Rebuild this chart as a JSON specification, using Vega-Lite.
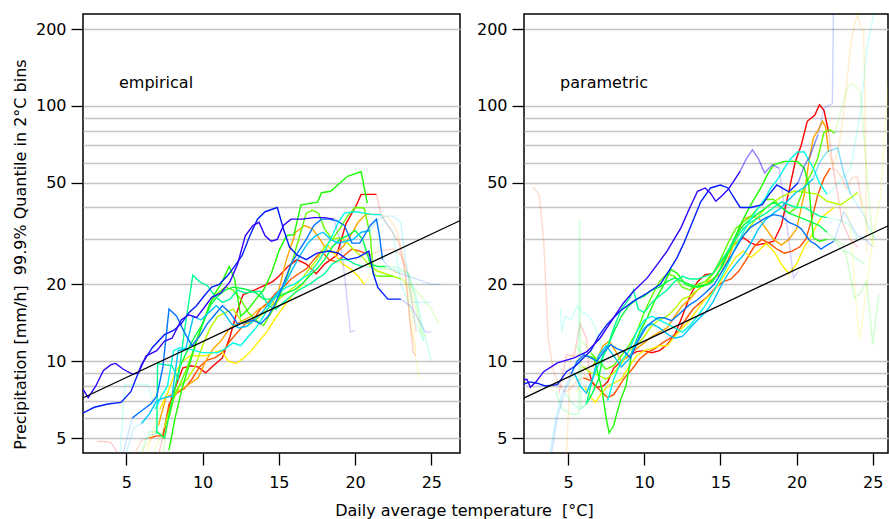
{
"$schema":"https://vega.github.io/schema/vega-lite/v6.json",
"background":"white",
"padding":{"left":11,"top":13,"right":0,"bottom":0},
"bounds":"flush",
"spacing":64,
"config":{
 "font":"DejaVu Sans",
 "view":{"stroke":"black","strokeWidth":1.5},
 "axis":{"domain":false,"labelFont":"DejaVu Sans","labelFontSize":16,"labelColor":"black","tickColor":"black","tickSize":12,"tickWidth":1.3,"titleFont":"DejaVu Sans","titleFontSize":16,"titleFontWeight":"normal","titleColor":"black","gridColor":"#c4c4c4","gridWidth":1.3,"gridOpacity":1}
},
"datasets":{
"refE":[{"t":2.0,"q":7.11},{"t":27.0,"q":35.8}],
"refP":[{"t":2.0,"q":7.13},{"t":26.5,"q":35.0}],
"emp":[
{"s":1,"g":0,"f":1,"t":3.1,"q":4.85},{"s":1,"g":0,"f":1,"t":3.6,"q":4.85},{"s":1,"g":0,"f":1,"t":4.0,"q":4.8},{"s":1,"g":0,"f":1,"t":4.5,"q":4.3},{"s":1,"g":0,"f":1,"t":5.0,"q":3.8},{"s":1,"g":0,"f":1,"t":6.0,"q":3.8},{"s":1,"g":0,"f":1,"t":7.0,"q":4.0},{"s":1,"g":0,"f":1,"t":7.4,"q":5.1},
{"s":1,"g":1,"f":0,"t":7.4,"q":5.1},{"s":1,"g":1,"f":0,"t":7.95,"q":7.1},{"s":1,"g":1,"f":0,"t":8.25,"q":8.0},{"s":1,"g":1,"f":0,"t":8.7,"q":9.4},{"s":1,"g":1,"f":0,"t":9.2,"q":9.6},{"s":1,"g":1,"f":0,"t":9.7,"q":9.5},{"s":1,"g":1,"f":0,"t":10.2,"q":9.0},{"s":1,"g":1,"f":0,"t":10.7,"q":9.6},{"s":1,"g":1,"f":0,"t":11.3,"q":10.3},{"s":1,"g":1,"f":0,"t":11.8,"q":12.5},{"s":1,"g":1,"f":0,"t":12.2,"q":15.2},{"s":1,"g":1,"f":0,"t":12.65,"q":18.2},{"s":1,"g":1,"f":0,"t":13.4,"q":19},{"s":1,"g":1,"f":0,"t":14.2,"q":20},{"s":1,"g":1,"f":0,"t":14.6,"q":20.5},{"s":1,"g":1,"f":0,"t":15.0,"q":21.5},{"s":1,"g":1,"f":0,"t":15.6,"q":23.5},{"s":1,"g":1,"f":0,"t":16.2,"q":25},{"s":1,"g":1,"f":0,"t":16.8,"q":24},{"s":1,"g":1,"f":0,"t":17.45,"q":22},{"s":1,"g":1,"f":0,"t":18.0,"q":24},{"s":1,"g":1,"f":0,"t":18.8,"q":26},{"s":1,"g":1,"f":0,"t":19.4,"q":34.5},{"s":1,"g":1,"f":0,"t":20.1,"q":41},{"s":1,"g":1,"f":0,"t":20.4,"q":45},{"s":1,"g":1,"f":0,"t":21.4,"q":45},
{"s":1,"g":2,"f":1,"t":21.4,"q":45},{"s":1,"g":2,"f":1,"t":21.7,"q":37.5},{"s":1,"g":2,"f":1,"t":22.3,"q":33},{"s":1,"g":2,"f":1,"t":22.9,"q":29},{"s":1,"g":2,"f":1,"t":23.3,"q":22},{"s":1,"g":2,"f":1,"t":23.8,"q":10.9},{"s":1,"g":2,"f":1,"t":24.0,"q":10.5},

{"s":2,"g":0,"f":1,"t":5.3,"q":3.8},{"s":2,"g":0,"f":1,"t":5.6,"q":4.4},{"s":2,"g":0,"f":1,"t":6.0,"q":4.9},{"s":2,"g":0,"f":1,"t":6.5,"q":5.0},
{"s":2,"g":1,"f":0,"t":6.5,"q":5.0},{"s":2,"g":1,"f":0,"t":7.0,"q":5.1},{"s":2,"g":1,"f":0,"t":7.4,"q":5.1},{"s":2,"g":1,"f":0,"t":7.8,"q":6.8},{"s":2,"g":1,"f":0,"t":8.3,"q":7.5},{"s":2,"g":1,"f":0,"t":8.8,"q":7.8},{"s":2,"g":1,"f":0,"t":9.3,"q":8.5},{"s":2,"g":1,"f":0,"t":9.8,"q":9.5},{"s":2,"g":1,"f":0,"t":10.3,"q":10.1},{"s":2,"g":1,"f":0,"t":10.8,"q":10.3},{"s":2,"g":1,"f":0,"t":11.3,"q":10.8},{"s":2,"g":1,"f":0,"t":11.8,"q":12},{"s":2,"g":1,"f":0,"t":12.3,"q":13},{"s":2,"g":1,"f":0,"t":12.8,"q":14},{"s":2,"g":1,"f":0,"t":13.3,"q":14.5},{"s":2,"g":1,"f":0,"t":13.8,"q":16},{"s":2,"g":1,"f":0,"t":14.3,"q":17},{"s":2,"g":1,"f":0,"t":14.8,"q":18.5},{"s":2,"g":1,"f":0,"t":15.3,"q":19.5},{"s":2,"g":1,"f":0,"t":15.8,"q":21},{"s":2,"g":1,"f":0,"t":16.3,"q":22},{"s":2,"g":1,"f":0,"t":16.8,"q":23},{"s":2,"g":1,"f":0,"t":17.3,"q":25},{"s":2,"g":1,"f":0,"t":17.8,"q":27},{"s":2,"g":1,"f":0,"t":18.3,"q":25},{"s":2,"g":1,"f":0,"t":18.8,"q":24.5},{"s":2,"g":1,"f":0,"t":19.3,"q":26},{"s":2,"g":1,"f":0,"t":19.8,"q":27.5},{"s":2,"g":1,"f":0,"t":20.3,"q":27},{"s":2,"g":1,"f":0,"t":21.0,"q":26},
{"s":2,"g":2,"f":1,"t":21.0,"q":26},{"s":2,"g":2,"f":1,"t":21.5,"q":27},{"s":2,"g":2,"f":1,"t":22.5,"q":27.5},{"s":2,"g":2,"f":1,"t":23.0,"q":26},{"s":2,"g":2,"f":1,"t":23.5,"q":22},{"s":2,"g":2,"f":1,"t":24.0,"q":13},

{"s":3,"g":0,"f":1,"t":5.8,"q":4.0},{"s":3,"g":0,"f":1,"t":6.2,"q":4.6},{"s":3,"g":0,"f":1,"t":6.7,"q":5.0},{"s":3,"g":0,"f":1,"t":7.1,"q":5.6},
{"s":3,"g":1,"f":0,"t":7.1,"q":5.6},{"s":3,"g":1,"f":0,"t":7.6,"q":7.2},{"s":3,"g":1,"f":0,"t":8.1,"q":7.5},{"s":3,"g":1,"f":0,"t":8.7,"q":7.8},{"s":3,"g":1,"f":0,"t":9.2,"q":8.2},{"s":3,"g":1,"f":0,"t":9.7,"q":8.6},{"s":3,"g":1,"f":0,"t":10.2,"q":10},{"s":3,"g":1,"f":0,"t":10.7,"q":11.2},{"s":3,"g":1,"f":0,"t":11.2,"q":12},{"s":3,"g":1,"f":0,"t":11.8,"q":13.5},{"s":3,"g":1,"f":0,"t":12.5,"q":14.3},{"s":3,"g":1,"f":0,"t":13.2,"q":15},{"s":3,"g":1,"f":0,"t":13.7,"q":16},{"s":3,"g":1,"f":0,"t":14.2,"q":16.5},{"s":3,"g":1,"f":0,"t":14.6,"q":17},{"s":3,"g":1,"f":0,"t":15.0,"q":19},{"s":3,"g":1,"f":0,"t":15.5,"q":25},{"s":3,"g":1,"f":0,"t":16.1,"q":32},{"s":3,"g":1,"f":0,"t":16.7,"q":34},{"s":3,"g":1,"f":0,"t":17.2,"q":33},{"s":3,"g":1,"f":0,"t":17.7,"q":30},{"s":3,"g":1,"f":0,"t":18.2,"q":27},{"s":3,"g":1,"f":0,"t":18.7,"q":26.5},{"s":3,"g":1,"f":0,"t":19.2,"q":28},{"s":3,"g":1,"f":0,"t":19.7,"q":31},{"s":3,"g":1,"f":0,"t":20.2,"q":35},{"s":3,"g":1,"f":0,"t":20.7,"q":37.6},{"s":3,"g":1,"f":0,"t":21.6,"q":37.6},
{"s":3,"g":2,"f":1,"t":21.6,"q":37.6},{"s":3,"g":2,"f":1,"t":22.2,"q":36.5},{"s":3,"g":2,"f":1,"t":22.7,"q":33},{"s":3,"g":2,"f":1,"t":23.2,"q":25},{"s":3,"g":2,"f":1,"t":23.6,"q":14},{"s":3,"g":2,"f":1,"t":24.0,"q":11},

{"s":4,"g":0,"f":1,"t":6.4,"q":4.4},{"s":4,"g":0,"f":1,"t":6.8,"q":5.5},{"s":4,"g":0,"f":1,"t":7.2,"q":6.5},
{"s":4,"g":1,"f":0,"t":7.2,"q":6.5},{"s":4,"g":1,"f":0,"t":7.7,"q":7.5},{"s":4,"g":1,"f":0,"t":8.2,"q":9.0},{"s":4,"g":1,"f":0,"t":8.7,"q":10.0},{"s":4,"g":1,"f":0,"t":9.2,"q":10.5},{"s":4,"g":1,"f":0,"t":9.7,"q":10.5},{"s":4,"g":1,"f":0,"t":10.2,"q":10.5},{"s":4,"g":1,"f":0,"t":10.7,"q":10.8},{"s":4,"g":1,"f":0,"t":11.2,"q":11},{"s":4,"g":1,"f":0,"t":11.7,"q":10.0},{"s":4,"g":1,"f":0,"t":12.2,"q":9.8},{"s":4,"g":1,"f":0,"t":12.7,"q":10.3},{"s":4,"g":1,"f":0,"t":13.2,"q":11},{"s":4,"g":1,"f":0,"t":13.7,"q":12},{"s":4,"g":1,"f":0,"t":14.2,"q":13},{"s":4,"g":1,"f":0,"t":14.7,"q":14.5},{"s":4,"g":1,"f":0,"t":15.2,"q":16},{"s":4,"g":1,"f":0,"t":15.7,"q":17.5},{"s":4,"g":1,"f":0,"t":16.2,"q":19},{"s":4,"g":1,"f":0,"t":16.7,"q":20.5},{"s":4,"g":1,"f":0,"t":17.2,"q":23},{"s":4,"g":1,"f":0,"t":17.7,"q":25},{"s":4,"g":1,"f":0,"t":18.2,"q":28.5},{"s":4,"g":1,"f":0,"t":18.7,"q":26},{"s":4,"g":1,"f":0,"t":19.2,"q":24},{"s":4,"g":1,"f":0,"t":19.7,"q":23},{"s":4,"g":1,"f":0,"t":20.2,"q":21.5},{"s":4,"g":1,"f":0,"t":20.6,"q":20},
{"s":4,"g":2,"f":1,"t":20.6,"q":20},{"s":4,"g":2,"f":1,"t":21.0,"q":22},{"s":4,"g":2,"f":1,"t":22.0,"q":23},{"s":4,"g":2,"f":1,"t":23.0,"q":22},{"s":4,"g":2,"f":1,"t":23.5,"q":19},{"s":4,"g":2,"f":1,"t":24.0,"q":10},{"s":4,"g":2,"f":1,"t":24.2,"q":8.5},

{"s":5,"g":0,"f":1,"t":6.8,"q":4.4},{"s":5,"g":0,"f":1,"t":7.2,"q":5.0},{"s":5,"g":0,"f":1,"t":7.5,"q":5.5},
{"s":5,"g":1,"f":0,"t":7.5,"q":5.5},{"s":5,"g":1,"f":0,"t":8.0,"q":7.0},{"s":5,"g":1,"f":0,"t":8.5,"q":8.0},{"s":5,"g":1,"f":0,"t":9.0,"q":8.5},{"s":5,"g":1,"f":0,"t":9.5,"q":9.5},{"s":5,"g":1,"f":0,"t":10.0,"q":11.5},{"s":5,"g":1,"f":0,"t":10.5,"q":13.5},{"s":5,"g":1,"f":0,"t":11.0,"q":15},{"s":5,"g":1,"f":0,"t":11.5,"q":15.5},{"s":5,"g":1,"f":0,"t":12.0,"q":16},{"s":5,"g":1,"f":0,"t":12.5,"q":14.5},{"s":5,"g":1,"f":0,"t":13.0,"q":14},{"s":5,"g":1,"f":0,"t":13.5,"q":14.5},{"s":5,"g":1,"f":0,"t":14.0,"q":15.5},{"s":5,"g":1,"f":0,"t":14.5,"q":16.5},{"s":5,"g":1,"f":0,"t":15.0,"q":17.5},{"s":5,"g":1,"f":0,"t":15.5,"q":18.5},{"s":5,"g":1,"f":0,"t":16.0,"q":19.5},{"s":5,"g":1,"f":0,"t":16.5,"q":21},{"s":5,"g":1,"f":0,"t":17.0,"q":23},{"s":5,"g":1,"f":0,"t":17.5,"q":25},{"s":5,"g":1,"f":0,"t":18.0,"q":28},{"s":5,"g":1,"f":0,"t":18.5,"q":30},{"s":5,"g":1,"f":0,"t":19.0,"q":30.5},{"s":5,"g":1,"f":0,"t":19.5,"q":29},{"s":5,"g":1,"f":0,"t":20.0,"q":27},{"s":5,"g":1,"f":0,"t":20.5,"q":25.5},{"s":5,"g":1,"f":0,"t":21.0,"q":23.5},{"s":5,"g":1,"f":0,"t":21.5,"q":22.5},{"s":5,"g":1,"f":0,"t":22.0,"q":22},{"s":5,"g":1,"f":0,"t":22.5,"q":21.5},{"s":5,"g":1,"f":0,"t":23.0,"q":21},
{"s":5,"g":2,"f":1,"t":23.0,"q":21},{"s":5,"g":2,"f":1,"t":23.5,"q":20},{"s":5,"g":2,"f":1,"t":24.0,"q":16},{"s":5,"g":2,"f":1,"t":24.3,"q":12.9},{"s":5,"g":2,"f":1,"t":24.7,"q":12.5},

{"s":6,"g":0,"f":1,"t":7.0,"q":4.0},{"s":6,"g":0,"f":1,"t":7.4,"q":4.4},{"s":6,"g":0,"f":1,"t":7.8,"q":6.0},
{"s":6,"g":1,"f":0,"t":7.8,"q":6.0},{"s":6,"g":1,"f":0,"t":8.2,"q":7.5},{"s":6,"g":1,"f":0,"t":8.6,"q":8.3},{"s":6,"g":1,"f":0,"t":9.0,"q":9.5},{"s":6,"g":1,"f":0,"t":9.5,"q":11.5},{"s":6,"g":1,"f":0,"t":10.0,"q":14},{"s":6,"g":1,"f":0,"t":10.5,"q":17},{"s":6,"g":1,"f":0,"t":11.0,"q":18.5},{"s":6,"g":1,"f":0,"t":11.5,"q":19.5},{"s":6,"g":1,"f":0,"t":12.0,"q":19},{"s":6,"g":1,"f":0,"t":12.5,"q":17.5},{"s":6,"g":1,"f":0,"t":13.0,"q":15.5},{"s":6,"g":1,"f":0,"t":13.5,"q":14.5},{"s":6,"g":1,"f":0,"t":14.0,"q":13.8},{"s":6,"g":1,"f":0,"t":14.5,"q":15.5},{"s":6,"g":1,"f":0,"t":15.0,"q":17.5},{"s":6,"g":1,"f":0,"t":15.5,"q":21},{"s":6,"g":1,"f":0,"t":16.0,"q":26},{"s":6,"g":1,"f":0,"t":16.5,"q":33},{"s":6,"g":1,"f":0,"t":16.8,"q":38},{"s":6,"g":1,"f":0,"t":17.2,"q":39},{"s":6,"g":1,"f":0,"t":17.6,"q":38},{"s":6,"g":1,"f":0,"t":18.0,"q":33},{"s":6,"g":1,"f":0,"t":18.5,"q":30},{"s":6,"g":1,"f":0,"t":19.0,"q":33},{"s":6,"g":1,"f":0,"t":19.5,"q":37},{"s":6,"g":1,"f":0,"t":20.0,"q":40},{"s":6,"g":1,"f":0,"t":20.6,"q":39.8},{"s":6,"g":1,"f":0,"t":21.0,"q":31},{"s":6,"g":1,"f":0,"t":21.2,"q":22},{"s":6,"g":1,"f":0,"t":21.5,"q":21.5},{"s":6,"g":1,"f":0,"t":22.0,"q":21.5},{"s":6,"g":1,"f":0,"t":22.5,"q":21.5},
{"s":6,"g":2,"f":1,"t":22.5,"q":21.5},{"s":6,"g":2,"f":1,"t":23.0,"q":21},{"s":6,"g":2,"f":1,"t":24.0,"q":19},{"s":6,"g":2,"f":1,"t":25.0,"q":16},{"s":6,"g":2,"f":1,"t":25.5,"q":14},

{"s":7,"g":0,"f":1,"t":7.5,"q":3.8},{"s":7,"g":0,"f":1,"t":7.8,"q":4.5},
{"s":7,"g":1,"f":0,"t":7.8,"q":4.5},{"s":7,"g":1,"f":0,"t":8.2,"q":6},{"s":7,"g":1,"f":0,"t":8.7,"q":8},{"s":7,"g":1,"f":0,"t":9.2,"q":10},{"s":7,"g":1,"f":0,"t":9.7,"q":12.5},{"s":7,"g":1,"f":0,"t":10.2,"q":15},{"s":7,"g":1,"f":0,"t":10.7,"q":18},{"s":7,"g":1,"f":0,"t":11.2,"q":20},{"s":7,"g":1,"f":0,"t":11.75,"q":23.5},{"s":7,"g":1,"f":0,"t":12.1,"q":21},{"s":7,"g":1,"f":0,"t":12.5,"q":15},{"s":7,"g":1,"f":0,"t":13.0,"q":16},{"s":7,"g":1,"f":0,"t":13.5,"q":17.5},{"s":7,"g":1,"f":0,"t":14.0,"q":19},{"s":7,"g":1,"f":0,"t":14.5,"q":22},{"s":7,"g":1,"f":0,"t":15.0,"q":27},{"s":7,"g":1,"f":0,"t":15.5,"q":31},{"s":7,"g":1,"f":0,"t":16.0,"q":31.4},{"s":7,"g":1,"f":0,"t":16.45,"q":41},{"s":7,"g":1,"f":0,"t":17.55,"q":42},{"s":7,"g":1,"f":0,"t":17.8,"q":45.7},{"s":7,"g":1,"f":0,"t":18.4,"q":46.3},{"s":7,"g":1,"f":0,"t":19.5,"q":53},{"s":7,"g":1,"f":0,"t":20.4,"q":55.2},{"s":7,"g":1,"f":0,"t":20.8,"q":41.6},

{"s":8,"g":0,"f":1,"t":6.0,"q":4.4},{"s":8,"g":0,"f":1,"t":6.5,"q":5.3},{"s":8,"g":0,"f":1,"t":7.0,"q":5.3},
{"s":8,"g":1,"f":0,"t":7.0,"q":5.3},{"s":8,"g":1,"f":0,"t":7.5,"q":5.0},{"s":8,"g":1,"f":0,"t":8.0,"q":7.0},{"s":8,"g":1,"f":0,"t":8.5,"q":9.5},{"s":8,"g":1,"f":0,"t":9.0,"q":11},{"s":8,"g":1,"f":0,"t":9.5,"q":12.5},{"s":8,"g":1,"f":0,"t":10.0,"q":14},{"s":8,"g":1,"f":0,"t":10.5,"q":16.5},{"s":8,"g":1,"f":0,"t":11.0,"q":18},{"s":8,"g":1,"f":0,"t":11.5,"q":19},{"s":8,"g":1,"f":0,"t":12.0,"q":19.5},{"s":8,"g":1,"f":0,"t":12.5,"q":19.3},{"s":8,"g":1,"f":0,"t":13.0,"q":19},{"s":8,"g":1,"f":0,"t":13.5,"q":18.5},{"s":8,"g":1,"f":0,"t":14.0,"q":17.5},{"s":8,"g":1,"f":0,"t":14.5,"q":17.5},{"s":8,"g":1,"f":0,"t":15.0,"q":18},{"s":8,"g":1,"f":0,"t":15.5,"q":18.5},{"s":8,"g":1,"f":0,"t":16.0,"q":19},{"s":8,"g":1,"f":0,"t":16.5,"q":20},{"s":8,"g":1,"f":0,"t":17.0,"q":21.5},{"s":8,"g":1,"f":0,"t":17.5,"q":23},{"s":8,"g":1,"f":0,"t":18.0,"q":25},{"s":8,"g":1,"f":0,"t":18.5,"q":28},{"s":8,"g":1,"f":0,"t":19.0,"q":30},{"s":8,"g":1,"f":0,"t":19.5,"q":31},{"s":8,"g":1,"f":0,"t":20.0,"q":32.5},{"s":8,"g":1,"f":0,"t":20.5,"q":30},{"s":8,"g":1,"f":0,"t":21.0,"q":24},{"s":8,"g":1,"f":0,"t":21.5,"q":23.5},{"s":8,"g":1,"f":0,"t":22.0,"q":23.5},
{"s":8,"g":2,"f":1,"t":22.0,"q":23.5},{"s":8,"g":2,"f":1,"t":22.5,"q":23.5},{"s":8,"g":2,"f":1,"t":23.0,"q":23},{"s":8,"g":2,"f":1,"t":23.5,"q":22},{"s":8,"g":2,"f":1,"t":24.0,"q":17},{"s":8,"g":2,"f":1,"t":24.5,"q":12},

{"s":9,"g":0,"f":1,"t":6.3,"q":5.0},{"s":9,"g":0,"f":1,"t":6.8,"q":5.2},{"s":9,"g":0,"f":1,"t":7.0,"q":5.2},
{"s":9,"g":1,"f":0,"t":7.0,"q":5.2},{"s":9,"g":1,"f":0,"t":7.05,"q":9.8},{"s":9,"g":1,"f":0,"t":7.5,"q":9.7},{"s":9,"g":1,"f":0,"t":8.0,"q":9.6},{"s":9,"g":1,"f":0,"t":8.4,"q":8.5},{"s":9,"g":1,"f":0,"t":8.8,"q":13},{"s":9,"g":1,"f":0,"t":9.36,"q":21.7},{"s":9,"g":1,"f":0,"t":9.8,"q":20.5},{"s":9,"g":1,"f":0,"t":10.3,"q":19.8},{"s":9,"g":1,"f":0,"t":10.8,"q":18},{"s":9,"g":1,"f":0,"t":11.3,"q":17},{"s":9,"g":1,"f":0,"t":11.8,"q":17.5},{"s":9,"g":1,"f":0,"t":12.3,"q":19},{"s":9,"g":1,"f":0,"t":12.8,"q":18.5},{"s":9,"g":1,"f":0,"t":13.3,"q":18.7},{"s":9,"g":1,"f":0,"t":13.8,"q":18.8},{"s":9,"g":1,"f":0,"t":14.3,"q":16.5},{"s":9,"g":1,"f":0,"t":14.8,"q":16},{"s":9,"g":1,"f":0,"t":15.3,"q":17},{"s":9,"g":1,"f":0,"t":15.8,"q":18},{"s":9,"g":1,"f":0,"t":16.3,"q":19},{"s":9,"g":1,"f":0,"t":17.0,"q":20},{"s":9,"g":1,"f":0,"t":17.5,"q":21},{"s":9,"g":1,"f":0,"t":18.0,"q":22},{"s":9,"g":1,"f":0,"t":18.5,"q":24},{"s":9,"g":1,"f":0,"t":19.0,"q":25},{"s":9,"g":1,"f":0,"t":19.5,"q":25},{"s":9,"g":1,"f":0,"t":20.0,"q":24},{"s":9,"g":1,"f":0,"t":20.5,"q":23.5},
{"s":9,"g":2,"f":1,"t":20.5,"q":23.5},{"s":9,"g":2,"f":1,"t":21.5,"q":23},{"s":9,"g":2,"f":1,"t":22.5,"q":23},{"s":9,"g":2,"f":1,"t":23.5,"q":22},{"s":9,"g":2,"f":1,"t":24.0,"q":18},{"s":9,"g":2,"f":1,"t":24.5,"q":13},{"s":9,"g":2,"f":1,"t":25.0,"q":10},

{"s":10,"g":0,"f":1,"t":4.6,"q":4.4},{"s":10,"g":0,"f":1,"t":4.9,"q":8.1},{"s":10,"g":0,"f":1,"t":6.4,"q":8.1},{"s":10,"g":0,"f":1,"t":6.9,"q":6.5},
{"s":10,"g":1,"f":0,"t":6.9,"q":6.5},{"s":10,"g":1,"f":0,"t":7.3,"q":7.3},{"s":10,"g":1,"f":0,"t":7.7,"q":8.0},{"s":10,"g":1,"f":0,"t":8.1,"q":11},{"s":10,"g":1,"f":0,"t":8.5,"q":11.3},{"s":10,"g":1,"f":0,"t":9.0,"q":11.2},{"s":10,"g":1,"f":0,"t":9.5,"q":11},{"s":10,"g":1,"f":0,"t":10.0,"q":10.8},{"s":10,"g":1,"f":0,"t":10.5,"q":10.8},{"s":10,"g":1,"f":0,"t":11.0,"q":10.8},{"s":10,"g":1,"f":0,"t":11.5,"q":11.2},{"s":10,"g":1,"f":0,"t":12.0,"q":11.8},{"s":10,"g":1,"f":0,"t":12.5,"q":11.5},{"s":10,"g":1,"f":0,"t":13.0,"q":12.5},{"s":10,"g":1,"f":0,"t":13.5,"q":13.5},{"s":10,"g":1,"f":0,"t":14.0,"q":15},{"s":10,"g":1,"f":0,"t":14.5,"q":17},{"s":10,"g":1,"f":0,"t":15.0,"q":18.5},{"s":10,"g":1,"f":0,"t":15.5,"q":19.5},{"s":10,"g":1,"f":0,"t":16.0,"q":20},{"s":10,"g":1,"f":0,"t":16.5,"q":21},{"s":10,"g":1,"f":0,"t":17.0,"q":22},{"s":10,"g":1,"f":0,"t":17.5,"q":24},{"s":10,"g":1,"f":0,"t":18.0,"q":27},{"s":10,"g":1,"f":0,"t":18.5,"q":31},{"s":10,"g":1,"f":0,"t":18.9,"q":35},{"s":10,"g":1,"f":0,"t":19.3,"q":38},{"s":10,"g":1,"f":0,"t":20.0,"q":38.5},{"s":10,"g":1,"f":0,"t":20.6,"q":38},{"s":10,"g":1,"f":0,"t":21.2,"q":37.5},{"s":10,"g":1,"f":0,"t":21.7,"q":37.5},
{"s":10,"g":2,"f":1,"t":21.7,"q":37.5},{"s":10,"g":2,"f":1,"t":22.0,"q":35},{"s":10,"g":2,"f":1,"t":22.5,"q":32},{"s":10,"g":2,"f":1,"t":23.0,"q":20},{"s":10,"g":2,"f":1,"t":23.5,"q":17},{"s":10,"g":2,"f":1,"t":24.0,"q":14},{"s":10,"g":2,"f":1,"t":24.5,"q":12},

{"s":11,"g":0,"f":1,"t":5.0,"q":4.4},{"s":11,"g":0,"f":1,"t":5.5,"q":5.5},{"s":11,"g":0,"f":1,"t":6.0,"q":5.7},
{"s":11,"g":1,"f":0,"t":6.0,"q":5.7},{"s":11,"g":1,"f":0,"t":6.5,"q":6.2},{"s":11,"g":1,"f":0,"t":7.0,"q":7.0},{"s":11,"g":1,"f":0,"t":7.5,"q":7.2},{"s":11,"g":1,"f":0,"t":8.0,"q":7.3},{"s":11,"g":1,"f":0,"t":8.4,"q":11},{"s":11,"g":1,"f":0,"t":8.9,"q":11.2},{"s":11,"g":1,"f":0,"t":9.4,"q":15},{"s":11,"g":1,"f":0,"t":9.9,"q":14.5},{"s":11,"g":1,"f":0,"t":10.4,"q":15.5},{"s":11,"g":1,"f":0,"t":10.9,"q":16.5},{"s":11,"g":1,"f":0,"t":11.4,"q":15.5},{"s":11,"g":1,"f":0,"t":11.9,"q":14},{"s":11,"g":1,"f":0,"t":12.4,"q":13.5},{"s":11,"g":1,"f":0,"t":12.9,"q":13.7},{"s":11,"g":1,"f":0,"t":13.4,"q":14.5},{"s":11,"g":1,"f":0,"t":13.9,"q":15.5},{"s":11,"g":1,"f":0,"t":14.4,"q":17},{"s":11,"g":1,"f":0,"t":14.9,"q":18.5},{"s":11,"g":1,"f":0,"t":15.4,"q":20},{"s":11,"g":1,"f":0,"t":15.9,"q":23},{"s":11,"g":1,"f":0,"t":16.4,"q":26},{"s":11,"g":1,"f":0,"t":16.9,"q":29},{"s":11,"g":1,"f":0,"t":17.4,"q":31},{"s":11,"g":1,"f":0,"t":17.9,"q":32},{"s":11,"g":1,"f":0,"t":18.4,"q":30},{"s":11,"g":1,"f":0,"t":18.9,"q":29},{"s":11,"g":1,"f":0,"t":19.4,"q":29.5},{"s":11,"g":1,"f":0,"t":19.9,"q":30},{"s":11,"g":1,"f":0,"t":20.4,"q":32},{"s":11,"g":1,"f":0,"t":21.0,"q":32.5},
{"s":11,"g":2,"f":1,"t":21.0,"q":32.5},{"s":11,"g":2,"f":1,"t":21.5,"q":36},{"s":11,"g":2,"f":1,"t":22.0,"q":37},{"s":11,"g":2,"f":1,"t":22.5,"q":37},{"s":11,"g":2,"f":1,"t":23.0,"q":35},{"s":11,"g":2,"f":1,"t":23.3,"q":25},{"s":11,"g":2,"f":1,"t":23.7,"q":17},{"s":11,"g":2,"f":1,"t":24.3,"q":17},{"s":11,"g":2,"f":1,"t":25.0,"q":17},

{"s":12,"g":0,"f":1,"t":4.7,"q":4.2},{"s":12,"g":0,"f":1,"t":4.8,"q":4.4},{"s":12,"g":0,"f":1,"t":5.4,"q":6.0},
{"s":12,"g":1,"f":0,"t":5.4,"q":6.0},{"s":12,"g":1,"f":0,"t":6.0,"q":6.4},{"s":12,"g":1,"f":0,"t":6.6,"q":6.8},{"s":12,"g":1,"f":0,"t":7.0,"q":7.3},{"s":12,"g":1,"f":0,"t":7.4,"q":9.5},{"s":12,"g":1,"f":0,"t":7.8,"q":16},{"s":12,"g":1,"f":0,"t":8.3,"q":15},{"s":12,"g":1,"f":0,"t":8.8,"q":13},{"s":12,"g":1,"f":0,"t":9.3,"q":11.5},{"s":12,"g":1,"f":0,"t":9.8,"q":12.5},{"s":12,"g":1,"f":0,"t":10.3,"q":14},{"s":12,"g":1,"f":0,"t":10.8,"q":15.2},{"s":12,"g":1,"f":0,"t":11.3,"q":16.5},{"s":12,"g":1,"f":0,"t":11.8,"q":15.5},{"s":12,"g":1,"f":0,"t":12.3,"q":14},{"s":12,"g":1,"f":0,"t":12.8,"q":14.2},{"s":12,"g":1,"f":0,"t":13.3,"q":14.5},{"s":12,"g":1,"f":0,"t":13.8,"q":14},{"s":12,"g":1,"f":0,"t":14.3,"q":15},{"s":12,"g":1,"f":0,"t":14.8,"q":17},{"s":12,"g":1,"f":0,"t":15.3,"q":20},{"s":12,"g":1,"f":0,"t":15.8,"q":24},{"s":12,"g":1,"f":0,"t":16.3,"q":27},{"s":12,"g":1,"f":0,"t":16.8,"q":30},{"s":12,"g":1,"f":0,"t":17.3,"q":34},{"s":12,"g":1,"f":0,"t":17.8,"q":36},{"s":12,"g":1,"f":0,"t":18.3,"q":36},{"s":12,"g":1,"f":0,"t":18.8,"q":35.5},{"s":12,"g":1,"f":0,"t":19.3,"q":34},{"s":12,"g":1,"f":0,"t":19.8,"q":29},{"s":12,"g":1,"f":0,"t":20.3,"q":29},{"s":12,"g":1,"f":0,"t":20.6,"q":31},{"s":12,"g":1,"f":0,"t":21.0,"q":34},{"s":12,"g":1,"f":0,"t":21.4,"q":36},{"s":12,"g":1,"f":0,"t":21.6,"q":31},{"s":12,"g":1,"f":0,"t":21.8,"q":25},
{"s":12,"g":2,"f":1,"t":21.8,"q":25},{"s":12,"g":2,"f":1,"t":22.3,"q":23},{"s":12,"g":2,"f":1,"t":23.0,"q":22},{"s":12,"g":2,"f":1,"t":24.0,"q":21},{"s":12,"g":2,"f":1,"t":25.0,"q":20},{"s":12,"g":2,"f":1,"t":25.6,"q":20},

{"s":13,"g":1,"f":0,"t":2.0,"q":6.2},{"s":13,"g":1,"f":0,"t":2.9,"q":6.6},{"s":13,"g":1,"f":0,"t":3.8,"q":6.8},{"s":13,"g":1,"f":0,"t":4.65,"q":6.9},{"s":13,"g":1,"f":0,"t":5.3,"q":7.6},{"s":13,"g":1,"f":0,"t":6.0,"q":9.7},{"s":13,"g":1,"f":0,"t":6.7,"q":11.3},{"s":13,"g":1,"f":0,"t":7.5,"q":12.7},{"s":13,"g":1,"f":0,"t":8.1,"q":13.2},{"s":13,"g":1,"f":0,"t":8.6,"q":14},{"s":13,"g":1,"f":0,"t":9.1,"q":15.5},{"s":13,"g":1,"f":0,"t":9.6,"q":16.5},{"s":13,"g":1,"f":0,"t":10.1,"q":18},{"s":13,"g":1,"f":0,"t":10.6,"q":19.5},{"s":13,"g":1,"f":0,"t":11.1,"q":20},{"s":13,"g":1,"f":0,"t":11.6,"q":21.5},{"s":13,"g":1,"f":0,"t":12.1,"q":23.5},{"s":13,"g":1,"f":0,"t":12.6,"q":26},{"s":13,"g":1,"f":0,"t":13.1,"q":31},{"s":13,"g":1,"f":0,"t":13.6,"q":36},{"s":13,"g":1,"f":0,"t":14.1,"q":38.5},{"s":13,"g":1,"f":0,"t":14.9,"q":40},{"s":13,"g":1,"f":0,"t":15.3,"q":33},{"s":13,"g":1,"f":0,"t":15.7,"q":28},{"s":13,"g":1,"f":0,"t":16.2,"q":26},{"s":13,"g":1,"f":0,"t":16.8,"q":25},{"s":13,"g":1,"f":0,"t":17.5,"q":26.5},{"s":13,"g":1,"f":0,"t":18.3,"q":27},{"s":13,"g":1,"f":0,"t":18.9,"q":26.5},{"s":13,"g":1,"f":0,"t":19.5,"q":25},{"s":13,"g":1,"f":0,"t":20.2,"q":25.5},{"s":13,"g":1,"f":0,"t":20.9,"q":27},{"s":13,"g":1,"f":0,"t":21.2,"q":22},{"s":13,"g":1,"f":0,"t":21.5,"q":19.4},{"s":13,"g":1,"f":0,"t":22.15,"q":17.5},{"s":13,"g":1,"f":0,"t":23.0,"q":17.5},
{"s":13,"g":2,"f":1,"t":23.0,"q":17.5},{"s":13,"g":2,"f":1,"t":23.7,"q":16.3},{"s":13,"g":2,"f":1,"t":24.6,"q":13},{"s":13,"g":2,"f":1,"t":25.0,"q":13},

{"s":14,"g":1,"f":0,"t":2.0,"q":7.9},{"s":14,"g":1,"f":0,"t":2.2,"q":7.7},{"s":14,"g":1,"f":0,"t":2.5,"q":7.2},{"s":14,"g":1,"f":0,"t":3.0,"q":8.0},{"s":14,"g":1,"f":0,"t":3.5,"q":9.2},{"s":14,"g":1,"f":0,"t":4.0,"q":9.7},{"s":14,"g":1,"f":0,"t":4.3,"q":9.8},{"s":14,"g":1,"f":0,"t":4.8,"q":9.3},{"s":14,"g":1,"f":0,"t":5.4,"q":8.9},{"s":14,"g":1,"f":0,"t":5.8,"q":9.0},{"s":14,"g":1,"f":0,"t":6.3,"q":10.5},{"s":14,"g":1,"f":0,"t":7.0,"q":11.0},{"s":14,"g":1,"f":0,"t":7.5,"q":12.0},{"s":14,"g":1,"f":0,"t":8.0,"q":12.3},{"s":14,"g":1,"f":0,"t":8.6,"q":14.5},{"s":14,"g":1,"f":0,"t":9.1,"q":15.2},{"s":14,"g":1,"f":0,"t":9.6,"q":14.8},{"s":14,"g":1,"f":0,"t":10.1,"q":16.2},{"s":14,"g":1,"f":0,"t":10.6,"q":17.8},{"s":14,"g":1,"f":0,"t":11.2,"q":18.5},{"s":14,"g":1,"f":0,"t":11.8,"q":20.5},{"s":14,"g":1,"f":0,"t":12.3,"q":24},{"s":14,"g":1,"f":0,"t":12.8,"q":31},{"s":14,"g":1,"f":0,"t":13.3,"q":34},{"s":14,"g":1,"f":0,"t":13.7,"q":35},{"s":14,"g":1,"f":0,"t":14.1,"q":31},{"s":14,"g":1,"f":0,"t":14.5,"q":29.5},{"s":14,"g":1,"f":0,"t":14.9,"q":30},{"s":14,"g":1,"f":0,"t":15.3,"q":34},{"s":14,"g":1,"f":0,"t":15.8,"q":36},{"s":14,"g":1,"f":0,"t":16.5,"q":36},{"s":14,"g":1,"f":0,"t":17.3,"q":36.5},{"s":14,"g":1,"f":0,"t":18.0,"q":36.5},{"s":14,"g":1,"f":0,"t":18.6,"q":36},
{"s":14,"g":2,"f":1,"t":18.6,"q":36},{"s":14,"g":2,"f":1,"t":19.0,"q":30},{"s":14,"g":2,"f":1,"t":19.3,"q":22},{"s":14,"g":2,"f":1,"t":19.7,"q":13},{"s":14,"g":2,"f":1,"t":20.0,"q":13.2}
],
"par":[
{"s":1,"g":0,"f":1,"t":4.4,"q":7.5},{"s":1,"g":0,"f":1,"t":4.9,"q":10.6},{"s":1,"g":0,"f":1,"t":5.4,"q":10.5},{"s":1,"g":0,"f":1,"t":5.8,"q":14},{"s":1,"g":0,"f":1,"t":6.2,"q":12.3},{"s":1,"g":0,"f":1,"t":6.4,"q":9.0},
{"s":1,"g":1,"f":0,"t":6.4,"q":9.0},{"s":1,"g":1,"f":0,"t":6.6,"q":8.2},{"s":1,"g":1,"f":0,"t":6.9,"q":7.9},{"s":1,"g":1,"f":0,"t":7.3,"q":8.0},{"s":1,"g":1,"f":0,"t":7.6,"q":8.3},{"s":1,"g":1,"f":0,"t":8.0,"q":9.4},{"s":1,"g":1,"f":0,"t":8.5,"q":10},{"s":1,"g":1,"f":0,"t":9.0,"q":10.5},{"s":1,"g":1,"f":0,"t":9.5,"q":10.9},{"s":1,"g":1,"f":0,"t":10.0,"q":11},{"s":1,"g":1,"f":0,"t":10.5,"q":10.8},{"s":1,"g":1,"f":0,"t":11.0,"q":11},{"s":1,"g":1,"f":0,"t":11.5,"q":11.6},{"s":1,"g":1,"f":0,"t":12.0,"q":12.7},{"s":1,"g":1,"f":0,"t":12.5,"q":15},{"s":1,"g":1,"f":0,"t":13.0,"q":18},{"s":1,"g":1,"f":0,"t":13.5,"q":20.5},{"s":1,"g":1,"f":0,"t":14.0,"q":21.8},{"s":1,"g":1,"f":0,"t":14.5,"q":22},{"s":1,"g":1,"f":0,"t":15.0,"q":24},{"s":1,"g":1,"f":0,"t":15.5,"q":27},{"s":1,"g":1,"f":0,"t":16.0,"q":29},{"s":1,"g":1,"f":0,"t":16.5,"q":30.5},{"s":1,"g":1,"f":0,"t":17.0,"q":29},{"s":1,"g":1,"f":0,"t":17.4,"q":28.5},{"s":1,"g":1,"f":0,"t":18.0,"q":29},{"s":1,"g":1,"f":0,"t":18.5,"q":29.5},{"s":1,"g":1,"f":0,"t":19.0,"q":34},{"s":1,"g":1,"f":0,"t":19.4,"q":43.6},{"s":1,"g":1,"f":0,"t":19.9,"q":60},{"s":1,"g":1,"f":0,"t":20.3,"q":70},{"s":1,"g":1,"f":0,"t":20.7,"q":87},{"s":1,"g":1,"f":0,"t":21.2,"q":92},{"s":1,"g":1,"f":0,"t":21.5,"q":101},{"s":1,"g":1,"f":0,"t":21.8,"q":96},{"s":1,"g":1,"f":0,"t":22.1,"q":79},
{"s":1,"g":2,"f":1,"t":22.1,"q":79},{"s":1,"g":2,"f":1,"t":22.4,"q":57},{"s":1,"g":2,"f":1,"t":22.7,"q":45},{"s":1,"g":2,"f":1,"t":23.0,"q":35},{"s":1,"g":2,"f":1,"t":23.5,"q":30},{"s":1,"g":2,"f":1,"t":24.0,"q":28},

{"s":2,"g":0,"f":1,"t":2.7,"q":48},{"s":2,"g":0,"f":1,"t":3.1,"q":45},{"s":2,"g":0,"f":1,"t":3.4,"q":30},{"s":2,"g":0,"f":1,"t":3.7,"q":12.3},{"s":2,"g":0,"f":1,"t":4.05,"q":9.1},{"s":2,"g":0,"f":1,"t":4.4,"q":8.1},{"s":2,"g":0,"f":1,"t":4.8,"q":7.6},{"s":2,"g":0,"f":1,"t":5.2,"q":7.8},{"s":2,"g":0,"f":1,"t":5.6,"q":8.4},{"s":2,"g":0,"f":1,"t":6.0,"q":8.6},
{"s":2,"g":1,"f":0,"t":6.0,"q":8.6},{"s":2,"g":1,"f":0,"t":6.5,"q":8.4},{"s":2,"g":1,"f":0,"t":7.0,"q":7.8},{"s":2,"g":1,"f":0,"t":7.6,"q":7.2},{"s":2,"g":1,"f":0,"t":8.0,"q":7.4},{"s":2,"g":1,"f":0,"t":8.7,"q":8.6},{"s":2,"g":1,"f":0,"t":9.2,"q":9.3},{"s":2,"g":1,"f":0,"t":9.7,"q":10.2},{"s":2,"g":1,"f":0,"t":10.2,"q":10.8},{"s":2,"g":1,"f":0,"t":10.7,"q":11.2},{"s":2,"g":1,"f":0,"t":11.2,"q":11.8},{"s":2,"g":1,"f":0,"t":11.7,"q":12.3},{"s":2,"g":1,"f":0,"t":12.2,"q":13},{"s":2,"g":1,"f":0,"t":12.7,"q":14.5},{"s":2,"g":1,"f":0,"t":13.2,"q":16},{"s":2,"g":1,"f":0,"t":13.7,"q":17},{"s":2,"g":1,"f":0,"t":14.2,"q":18},{"s":2,"g":1,"f":0,"t":14.7,"q":19.5},{"s":2,"g":1,"f":0,"t":15.2,"q":20.5},{"s":2,"g":1,"f":0,"t":15.7,"q":21},{"s":2,"g":1,"f":0,"t":16.2,"q":22.5},{"s":2,"g":1,"f":0,"t":16.7,"q":25},{"s":2,"g":1,"f":0,"t":17.2,"q":28},{"s":2,"g":1,"f":0,"t":17.7,"q":30},{"s":2,"g":1,"f":0,"t":18.2,"q":29},{"s":2,"g":1,"f":0,"t":18.7,"q":27.5},{"s":2,"g":1,"f":0,"t":19.2,"q":26.5},{"s":2,"g":1,"f":0,"t":19.7,"q":27},{"s":2,"g":1,"f":0,"t":20.2,"q":28},{"s":2,"g":1,"f":0,"t":20.6,"q":30},{"s":2,"g":1,"f":0,"t":21.0,"q":36},{"s":2,"g":1,"f":0,"t":21.4,"q":45},{"s":2,"g":1,"f":0,"t":21.8,"q":52},{"s":2,"g":1,"f":0,"t":22.2,"q":57},
{"s":2,"g":2,"f":1,"t":22.2,"q":57},{"s":2,"g":2,"f":1,"t":22.6,"q":56},{"s":2,"g":2,"f":1,"t":23.0,"q":52},{"s":2,"g":2,"f":1,"t":23.3,"q":47},{"s":2,"g":2,"f":1,"t":23.6,"q":52},{"s":2,"g":2,"f":1,"t":24.0,"q":53},{"s":2,"g":2,"f":1,"t":24.3,"q":40},

{"s":3,"g":0,"f":1,"t":4.9,"q":4.3},{"s":3,"g":0,"f":1,"t":5.05,"q":6.8},{"s":3,"g":0,"f":1,"t":5.15,"q":10.3},{"s":3,"g":0,"f":1,"t":5.4,"q":10.5},{"s":3,"g":0,"f":1,"t":5.8,"q":10.0},{"s":3,"g":0,"f":1,"t":6.2,"q":8.5},{"s":3,"g":0,"f":1,"t":6.6,"q":9.5},
{"s":3,"g":1,"f":0,"t":6.6,"q":9.5},{"s":3,"g":1,"f":0,"t":7.0,"q":10.5},{"s":3,"g":1,"f":0,"t":7.3,"q":11.5},{"s":3,"g":1,"f":0,"t":7.7,"q":12},{"s":3,"g":1,"f":0,"t":8.1,"q":11},{"s":3,"g":1,"f":0,"t":8.5,"q":10},{"s":3,"g":1,"f":0,"t":9.0,"q":10.5},{"s":3,"g":1,"f":0,"t":9.5,"q":11.2},{"s":3,"g":1,"f":0,"t":10.0,"q":11.8},{"s":3,"g":1,"f":0,"t":10.5,"q":12.5},{"s":3,"g":1,"f":0,"t":11.0,"q":13},{"s":3,"g":1,"f":0,"t":11.5,"q":13.5},{"s":3,"g":1,"f":0,"t":12.0,"q":15},{"s":3,"g":1,"f":0,"t":12.5,"q":16.5},{"s":3,"g":1,"f":0,"t":13.0,"q":17.5},{"s":3,"g":1,"f":0,"t":13.5,"q":19},{"s":3,"g":1,"f":0,"t":14.0,"q":20},{"s":3,"g":1,"f":0,"t":14.5,"q":21},{"s":3,"g":1,"f":0,"t":15.0,"q":22},{"s":3,"g":1,"f":0,"t":15.5,"q":25},{"s":3,"g":1,"f":0,"t":16.0,"q":30},{"s":3,"g":1,"f":0,"t":16.5,"q":36},{"s":3,"g":1,"f":0,"t":17.0,"q":37},{"s":3,"g":1,"f":0,"t":17.5,"q":36.5},{"s":3,"g":1,"f":0,"t":18.0,"q":33},{"s":3,"g":1,"f":0,"t":18.5,"q":30},{"s":3,"g":1,"f":0,"t":19.0,"q":28.5},{"s":3,"g":1,"f":0,"t":19.5,"q":30},{"s":3,"g":1,"f":0,"t":20.0,"q":33},{"s":3,"g":1,"f":0,"t":20.5,"q":45},{"s":3,"g":1,"f":0,"t":20.8,"q":60},{"s":3,"g":1,"f":0,"t":21.1,"q":75},{"s":3,"g":1,"f":0,"t":21.4,"q":80},{"s":3,"g":1,"f":0,"t":21.7,"q":87},{"s":3,"g":1,"f":0,"t":21.9,"q":83},{"s":3,"g":1,"f":0,"t":22.1,"q":66},
{"s":3,"g":2,"f":1,"t":22.1,"q":66},{"s":3,"g":2,"f":1,"t":22.4,"q":58},{"s":3,"g":2,"f":1,"t":22.8,"q":70},{"s":3,"g":2,"f":1,"t":23.1,"q":95},{"s":3,"g":2,"f":1,"t":23.55,"q":173},{"s":3,"g":2,"f":1,"t":23.8,"q":208},{"s":3,"g":2,"f":1,"t":24.0,"q":228},{"s":3,"g":2,"f":1,"t":24.2,"q":205},{"s":3,"g":2,"f":1,"t":24.4,"q":196},{"s":3,"g":2,"f":1,"t":24.5,"q":95},{"s":3,"g":2,"f":1,"t":24.6,"q":27},

{"s":4,"g":0,"f":1,"t":5.5,"q":7.5},{"s":4,"g":0,"f":1,"t":5.8,"q":8},{"s":4,"g":0,"f":1,"t":6.1,"q":7.9},
{"s":4,"g":1,"f":0,"t":6.1,"q":7.9},{"s":4,"g":1,"f":0,"t":6.5,"q":7.2},{"s":4,"g":1,"f":0,"t":6.8,"q":6.9},{"s":4,"g":1,"f":0,"t":7.2,"q":7.5},{"s":4,"g":1,"f":0,"t":7.6,"q":8.0},{"s":4,"g":1,"f":0,"t":8.0,"q":8.2},{"s":4,"g":1,"f":0,"t":8.5,"q":8.5},{"s":4,"g":1,"f":0,"t":9.0,"q":9.5},{"s":4,"g":1,"f":0,"t":9.5,"q":10.5},{"s":4,"g":1,"f":0,"t":10.0,"q":11},{"s":4,"g":1,"f":0,"t":10.5,"q":11.2},{"s":4,"g":1,"f":0,"t":11.0,"q":11.5},{"s":4,"g":1,"f":0,"t":11.5,"q":11.5},{"s":4,"g":1,"f":0,"t":12.0,"q":12.5},{"s":4,"g":1,"f":0,"t":12.5,"q":13.5},{"s":4,"g":1,"f":0,"t":13.0,"q":14.5},{"s":4,"g":1,"f":0,"t":13.5,"q":16},{"s":4,"g":1,"f":0,"t":14.0,"q":17.5},{"s":4,"g":1,"f":0,"t":14.5,"q":18.5},{"s":4,"g":1,"f":0,"t":15.0,"q":20.5},{"s":4,"g":1,"f":0,"t":15.5,"q":23},{"s":4,"g":1,"f":0,"t":16.0,"q":25.5},{"s":4,"g":1,"f":0,"t":16.5,"q":27},{"s":4,"g":1,"f":0,"t":17.0,"q":25.5},{"s":4,"g":1,"f":0,"t":17.5,"q":27},{"s":4,"g":1,"f":0,"t":18.0,"q":29},{"s":4,"g":1,"f":0,"t":18.5,"q":27},{"s":4,"g":1,"f":0,"t":19.0,"q":24},{"s":4,"g":1,"f":0,"t":19.5,"q":22},{"s":4,"g":1,"f":0,"t":20.0,"q":24},{"s":4,"g":1,"f":0,"t":20.5,"q":28},{"s":4,"g":1,"f":0,"t":20.9,"q":30.4},{"s":4,"g":1,"f":0,"t":21.3,"q":34},{"s":4,"g":1,"f":0,"t":21.6,"q":36.4},{"s":4,"g":1,"f":0,"t":22.0,"q":38},{"s":4,"g":1,"f":0,"t":22.45,"q":40},
{"s":4,"g":2,"f":1,"t":22.45,"q":40},{"s":4,"g":2,"f":1,"t":22.8,"q":42},{"s":4,"g":2,"f":1,"t":23.2,"q":40},{"s":4,"g":2,"f":1,"t":23.5,"q":35},{"s":4,"g":2,"f":1,"t":23.8,"q":20},{"s":4,"g":2,"f":1,"t":24.1,"q":12.3},{"s":4,"g":2,"f":1,"t":24.3,"q":14},{"s":4,"g":2,"f":1,"t":24.6,"q":20},{"s":4,"g":2,"f":1,"t":25.0,"q":30},{"s":4,"g":2,"f":1,"t":25.5,"q":43.6},{"s":4,"g":2,"f":1,"t":26.2,"q":175},

{"s":5,"g":0,"f":1,"t":5.3,"q":8.5},{"s":5,"g":0,"f":1,"t":5.7,"q":9.2},{"s":5,"g":0,"f":1,"t":6.0,"q":9.5},
{"s":5,"g":1,"f":0,"t":6.0,"q":9.5},{"s":5,"g":1,"f":0,"t":6.5,"q":9.0},{"s":5,"g":1,"f":0,"t":7.0,"q":8.8},{"s":5,"g":1,"f":0,"t":7.5,"q":8.5},{"s":5,"g":1,"f":0,"t":8.0,"q":9.0},{"s":5,"g":1,"f":0,"t":8.5,"q":9.8},{"s":5,"g":1,"f":0,"t":9.0,"q":11},{"s":5,"g":1,"f":0,"t":9.5,"q":11.5},{"s":5,"g":1,"f":0,"t":10.0,"q":12.5},{"s":5,"g":1,"f":0,"t":10.5,"q":13.8},{"s":5,"g":1,"f":0,"t":11.0,"q":14.5},{"s":5,"g":1,"f":0,"t":11.5,"q":15},{"s":5,"g":1,"f":0,"t":12.0,"q":16},{"s":5,"g":1,"f":0,"t":12.5,"q":17.5},{"s":5,"g":1,"f":0,"t":13.0,"q":18},{"s":5,"g":1,"f":0,"t":13.5,"q":19},{"s":5,"g":1,"f":0,"t":14.0,"q":20},{"s":5,"g":1,"f":0,"t":14.5,"q":22},{"s":5,"g":1,"f":0,"t":15.0,"q":24},{"s":5,"g":1,"f":0,"t":15.5,"q":26.5},{"s":5,"g":1,"f":0,"t":16.0,"q":29},{"s":5,"g":1,"f":0,"t":16.5,"q":31},{"s":5,"g":1,"f":0,"t":17.0,"q":34},{"s":5,"g":1,"f":0,"t":17.5,"q":37},{"s":5,"g":1,"f":0,"t":18.0,"q":40},{"s":5,"g":1,"f":0,"t":18.5,"q":42},{"s":5,"g":1,"f":0,"t":19.0,"q":44},{"s":5,"g":1,"f":0,"t":19.8,"q":46.3},{"s":5,"g":1,"f":0,"t":20.5,"q":46},{"s":5,"g":1,"f":0,"t":21.4,"q":45},{"s":5,"g":1,"f":0,"t":22.0,"q":42.3},{"s":5,"g":1,"f":0,"t":22.9,"q":41},{"s":5,"g":1,"f":0,"t":23.55,"q":43.6},{"s":5,"g":1,"f":0,"t":24.0,"q":45.8},
{"s":5,"g":2,"f":1,"t":24.0,"q":45.8},{"s":5,"g":2,"f":1,"t":24.3,"q":42},{"s":5,"g":2,"f":1,"t":24.6,"q":34},{"s":5,"g":2,"f":1,"t":24.9,"q":30},{"s":5,"g":2,"f":1,"t":25.2,"q":28},

{"s":6,"g":0,"f":1,"t":5.9,"q":12},{"s":6,"g":0,"f":1,"t":6.2,"q":11.5},{"s":6,"g":0,"f":1,"t":6.5,"q":10.8},
{"s":6,"g":1,"f":0,"t":6.5,"q":10.8},{"s":6,"g":1,"f":0,"t":7.0,"q":10},{"s":6,"g":1,"f":0,"t":7.5,"q":9.3},{"s":6,"g":1,"f":0,"t":8.0,"q":9.6},{"s":6,"g":1,"f":0,"t":8.5,"q":10.5},{"s":6,"g":1,"f":0,"t":9.0,"q":11.5},{"s":6,"g":1,"f":0,"t":9.5,"q":13},{"s":6,"g":1,"f":0,"t":10.0,"q":15.5},{"s":6,"g":1,"f":0,"t":10.5,"q":18},{"s":6,"g":1,"f":0,"t":11.0,"q":20.5},{"s":6,"g":1,"f":0,"t":11.5,"q":22},{"s":6,"g":1,"f":0,"t":12.0,"q":21.5},{"s":6,"g":1,"f":0,"t":12.5,"q":19.5},{"s":6,"g":1,"f":0,"t":13.0,"q":19},{"s":6,"g":1,"f":0,"t":13.5,"q":20},{"s":6,"g":1,"f":0,"t":14.0,"q":20.5},{"s":6,"g":1,"f":0,"t":14.5,"q":22},{"s":6,"g":1,"f":0,"t":15.0,"q":25},{"s":6,"g":1,"f":0,"t":15.5,"q":29},{"s":6,"g":1,"f":0,"t":16.0,"q":33},{"s":6,"g":1,"f":0,"t":16.5,"q":35},{"s":6,"g":1,"f":0,"t":17.0,"q":37},{"s":6,"g":1,"f":0,"t":17.5,"q":40},{"s":6,"g":1,"f":0,"t":18.0,"q":43},{"s":6,"g":1,"f":0,"t":18.5,"q":43},{"s":6,"g":1,"f":0,"t":19.0,"q":40},{"s":6,"g":1,"f":0,"t":19.5,"q":38},{"s":6,"g":1,"f":0,"t":20.0,"q":40},{"s":6,"g":1,"f":0,"t":20.5,"q":48},{"s":6,"g":1,"f":0,"t":21.0,"q":55},{"s":6,"g":1,"f":0,"t":21.4,"q":62.5},{"s":6,"g":1,"f":0,"t":21.8,"q":79},{"s":6,"g":1,"f":0,"t":22.2,"q":80.6},{"s":6,"g":1,"f":0,"t":22.5,"q":78},
{"s":6,"g":2,"f":1,"t":22.5,"q":78},{"s":6,"g":2,"f":1,"t":22.9,"q":95},{"s":6,"g":2,"f":1,"t":23.3,"q":117},{"s":6,"g":2,"f":1,"t":23.65,"q":123},{"s":6,"g":2,"f":1,"t":24.0,"q":117},{"s":6,"g":2,"f":1,"t":24.2,"q":114},{"s":6,"g":2,"f":1,"t":24.4,"q":79},{"s":6,"g":2,"f":1,"t":24.6,"q":55},{"s":6,"g":2,"f":1,"t":24.8,"q":40},{"s":6,"g":2,"f":1,"t":25.0,"q":30},

{"s":7,"g":0,"f":1,"t":5.5,"q":11.5},{"s":7,"g":0,"f":1,"t":5.9,"q":10.8},{"s":7,"g":0,"f":1,"t":6.2,"q":10.5},
{"s":7,"g":1,"f":0,"t":6.2,"q":10.5},{"s":7,"g":1,"f":0,"t":6.7,"q":10.3},{"s":7,"g":1,"f":0,"t":7.0,"q":8.8},{"s":7,"g":1,"f":0,"t":7.25,"q":7.6},{"s":7,"g":1,"f":0,"t":7.5,"q":6.0},{"s":7,"g":1,"f":0,"t":7.7,"q":5.24},{"s":7,"g":1,"f":0,"t":8.0,"q":5.6},{"s":7,"g":1,"f":0,"t":8.25,"q":6.4},{"s":7,"g":1,"f":0,"t":8.5,"q":7.2},{"s":7,"g":1,"f":0,"t":8.8,"q":8.0},{"s":7,"g":1,"f":0,"t":9.2,"q":10.9},{"s":7,"g":1,"f":0,"t":9.7,"q":13},{"s":7,"g":1,"f":0,"t":10.2,"q":14.8},{"s":7,"g":1,"f":0,"t":10.7,"q":17.3},{"s":7,"g":1,"f":0,"t":11.2,"q":19.5},{"s":7,"g":1,"f":0,"t":11.75,"q":22.9},{"s":7,"g":1,"f":0,"t":12.2,"q":22},{"s":7,"g":1,"f":0,"t":12.7,"q":20},{"s":7,"g":1,"f":0,"t":13.2,"q":19.5},{"s":7,"g":1,"f":0,"t":13.7,"q":19.8},{"s":7,"g":1,"f":0,"t":14.2,"q":20},{"s":7,"g":1,"f":0,"t":14.7,"q":21.5},{"s":7,"g":1,"f":0,"t":15.2,"q":24},{"s":7,"g":1,"f":0,"t":15.7,"q":28},{"s":7,"g":1,"f":0,"t":16.2,"q":33},{"s":7,"g":1,"f":0,"t":16.7,"q":38},{"s":7,"g":1,"f":0,"t":17.2,"q":43},{"s":7,"g":1,"f":0,"t":17.65,"q":47.7},{"s":7,"g":1,"f":0,"t":18.1,"q":54},{"s":7,"g":1,"f":0,"t":18.5,"q":58.8},{"s":7,"g":1,"f":0,"t":19.2,"q":60.6},{"s":7,"g":1,"f":0,"t":20.05,"q":60.6},{"s":7,"g":1,"f":0,"t":20.5,"q":57},{"s":7,"g":1,"f":0,"t":20.8,"q":49},{"s":7,"g":1,"f":0,"t":21.1,"q":30.4},{"s":7,"g":1,"f":0,"t":21.5,"q":29.5},{"s":7,"g":1,"f":0,"t":22.0,"q":30},
{"s":7,"g":2,"f":1,"t":22.0,"q":30},{"s":7,"g":2,"f":1,"t":22.5,"q":30},{"s":7,"g":2,"f":1,"t":23.1,"q":28.6},{"s":7,"g":2,"f":1,"t":23.5,"q":22},{"s":7,"g":2,"f":1,"t":23.8,"q":17.7},{"s":7,"g":2,"f":1,"t":24.2,"q":18.5},{"s":7,"g":2,"f":1,"t":24.6,"q":20.6},{"s":7,"g":2,"f":1,"t":25.0,"q":11.6},{"s":7,"g":2,"f":1,"t":25.4,"q":18.3},

{"s":8,"g":0,"f":1,"t":4.2,"q":7.6},{"s":8,"g":0,"f":1,"t":4.6,"q":6.5},{"s":8,"g":0,"f":1,"t":5.2,"q":6.2},{"s":8,"g":0,"f":1,"t":5.7,"q":6.2},{"s":8,"g":0,"f":1,"t":5.75,"q":36},{"s":8,"g":0,"f":1,"t":5.85,"q":6.5},{"s":8,"g":0,"f":1,"t":6.2,"q":6.8},
{"s":8,"g":1,"f":0,"t":6.2,"q":6.8},{"s":8,"g":1,"f":0,"t":6.6,"q":7.5},{"s":8,"g":1,"f":0,"t":7.0,"q":8.5},{"s":8,"g":1,"f":0,"t":7.3,"q":10.5},{"s":8,"g":1,"f":0,"t":7.7,"q":11.8},{"s":8,"g":1,"f":0,"t":8.0,"q":13},{"s":8,"g":1,"f":0,"t":8.5,"q":15},{"s":8,"g":1,"f":0,"t":9.0,"q":16.5},{"s":8,"g":1,"f":0,"t":9.5,"q":17.5},{"s":8,"g":1,"f":0,"t":10.0,"q":18},{"s":8,"g":1,"f":0,"t":10.5,"q":19},{"s":8,"g":1,"f":0,"t":11.0,"q":19.5},{"s":8,"g":1,"f":0,"t":11.5,"q":20.5},{"s":8,"g":1,"f":0,"t":12.0,"q":21.2},{"s":8,"g":1,"f":0,"t":12.5,"q":20.5},{"s":8,"g":1,"f":0,"t":13.0,"q":20},{"s":8,"g":1,"f":0,"t":13.5,"q":19.5},{"s":8,"g":1,"f":0,"t":14.0,"q":19.8},{"s":8,"g":1,"f":0,"t":14.5,"q":20.5},{"s":8,"g":1,"f":0,"t":15.0,"q":23},{"s":8,"g":1,"f":0,"t":15.5,"q":27},{"s":8,"g":1,"f":0,"t":16.0,"q":31},{"s":8,"g":1,"f":0,"t":16.5,"q":34},{"s":8,"g":1,"f":0,"t":17.0,"q":36},{"s":8,"g":1,"f":0,"t":17.5,"q":38},{"s":8,"g":1,"f":0,"t":18.0,"q":40},{"s":8,"g":1,"f":0,"t":18.5,"q":42},{"s":8,"g":1,"f":0,"t":19.0,"q":40},{"s":8,"g":1,"f":0,"t":19.5,"q":38},{"s":8,"g":1,"f":0,"t":20.0,"q":37},{"s":8,"g":1,"f":0,"t":20.5,"q":36},{"s":8,"g":1,"f":0,"t":21.0,"q":35},{"s":8,"g":1,"f":0,"t":21.5,"q":34},{"s":8,"g":1,"f":0,"t":22.0,"q":32},
{"s":8,"g":2,"f":1,"t":22.0,"q":32},{"s":8,"g":2,"f":1,"t":22.5,"q":30},{"s":8,"g":2,"f":1,"t":23.0,"q":27},{"s":8,"g":2,"f":1,"t":23.5,"q":26.5},{"s":8,"g":2,"f":1,"t":24.0,"q":25},{"s":8,"g":2,"f":1,"t":24.5,"q":24},

{"s":9,"g":0,"f":1,"t":4.8,"q":7.5},{"s":9,"g":0,"f":1,"t":5.3,"q":6.8},{"s":9,"g":0,"f":1,"t":5.8,"q":6.5},{"s":9,"g":0,"f":1,"t":6.2,"q":6.8},
{"s":9,"g":1,"f":0,"t":6.2,"q":6.8},{"s":9,"g":1,"f":0,"t":6.6,"q":8.5},{"s":9,"g":1,"f":0,"t":7.0,"q":9.7},{"s":9,"g":1,"f":0,"t":7.5,"q":11},{"s":9,"g":1,"f":0,"t":8.0,"q":13.5},{"s":9,"g":1,"f":0,"t":8.5,"q":16},{"s":9,"g":1,"f":0,"t":9.0,"q":17.5},{"s":9,"g":1,"f":0,"t":9.3,"q":19},{"s":9,"g":1,"f":0,"t":9.6,"q":16},{"s":9,"g":1,"f":0,"t":10.0,"q":15.5},{"s":9,"g":1,"f":0,"t":10.5,"q":17},{"s":9,"g":1,"f":0,"t":11.0,"q":18},{"s":9,"g":1,"f":0,"t":11.5,"q":19},{"s":9,"g":1,"f":0,"t":12.0,"q":20.5},{"s":9,"g":1,"f":0,"t":12.5,"q":21.5},{"s":9,"g":1,"f":0,"t":13.0,"q":21},{"s":9,"g":1,"f":0,"t":13.5,"q":21},{"s":9,"g":1,"f":0,"t":14.0,"q":21.5},{"s":9,"g":1,"f":0,"t":14.5,"q":22},{"s":9,"g":1,"f":0,"t":15.0,"q":24.5},{"s":9,"g":1,"f":0,"t":15.5,"q":27},{"s":9,"g":1,"f":0,"t":16.0,"q":30},{"s":9,"g":1,"f":0,"t":16.5,"q":33},{"s":9,"g":1,"f":0,"t":17.0,"q":35},{"s":9,"g":1,"f":0,"t":17.5,"q":36.5},{"s":9,"g":1,"f":0,"t":18.0,"q":38},{"s":9,"g":1,"f":0,"t":18.5,"q":40},{"s":9,"g":1,"f":0,"t":19.0,"q":42},{"s":9,"g":1,"f":0,"t":19.5,"q":41},{"s":9,"g":1,"f":0,"t":20.0,"q":40},{"s":9,"g":1,"f":0,"t":20.5,"q":40},{"s":9,"g":1,"f":0,"t":21.0,"q":38.5},{"s":9,"g":1,"f":0,"t":21.5,"q":37},{"s":9,"g":1,"f":0,"t":22.0,"q":36.5},
{"s":9,"g":2,"f":1,"t":22.0,"q":36.5},{"s":9,"g":2,"f":1,"t":22.5,"q":36},{"s":9,"g":2,"f":1,"t":23.0,"q":35.5},{"s":9,"g":2,"f":1,"t":23.5,"q":34},{"s":9,"g":2,"f":1,"t":24.0,"q":30},

{"s":10,"g":0,"f":1,"t":4.5,"q":16},{"s":10,"g":0,"f":1,"t":4.6,"q":13},{"s":10,"g":0,"f":1,"t":4.8,"q":15},{"s":10,"g":0,"f":1,"t":5.2,"q":14.5},{"s":10,"g":0,"f":1,"t":5.6,"q":16.5},{"s":10,"g":0,"f":1,"t":6.0,"q":15.5},{"s":10,"g":0,"f":1,"t":6.4,"q":15},{"s":10,"g":0,"f":1,"t":6.8,"q":13.5},{"s":10,"g":0,"f":1,"t":7.1,"q":12},{"s":10,"g":0,"f":1,"t":7.3,"q":10},{"s":10,"g":0,"f":1,"t":7.6,"q":7.0},
{"s":10,"g":1,"f":0,"t":7.6,"q":7.0},{"s":10,"g":1,"f":0,"t":8.0,"q":8.5},{"s":10,"g":1,"f":0,"t":8.5,"q":10},{"s":10,"g":1,"f":0,"t":9.0,"q":11},{"s":10,"g":1,"f":0,"t":9.5,"q":13},{"s":10,"g":1,"f":0,"t":10.0,"q":14.5},{"s":10,"g":1,"f":0,"t":10.5,"q":15},{"s":10,"g":1,"f":0,"t":11.0,"q":14.5},{"s":10,"g":1,"f":0,"t":11.5,"q":14},{"s":10,"g":1,"f":0,"t":12.0,"q":13.5},{"s":10,"g":1,"f":0,"t":12.5,"q":13},{"s":10,"g":1,"f":0,"t":13.0,"q":13.8},{"s":10,"g":1,"f":0,"t":13.5,"q":15},{"s":10,"g":1,"f":0,"t":14.0,"q":16.5},{"s":10,"g":1,"f":0,"t":14.5,"q":18.5},{"s":10,"g":1,"f":0,"t":15.0,"q":21},{"s":10,"g":1,"f":0,"t":15.5,"q":24},{"s":10,"g":1,"f":0,"t":16.0,"q":28},{"s":10,"g":1,"f":0,"t":16.5,"q":32},{"s":10,"g":1,"f":0,"t":17.0,"q":36},{"s":10,"g":1,"f":0,"t":17.5,"q":40},{"s":10,"g":1,"f":0,"t":18.0,"q":44},{"s":10,"g":1,"f":0,"t":18.3,"q":47.7},{"s":10,"g":1,"f":0,"t":18.8,"q":52},{"s":10,"g":1,"f":0,"t":19.2,"q":57},{"s":10,"g":1,"f":0,"t":19.6,"q":62},{"s":10,"g":1,"f":0,"t":20.05,"q":66},{"s":10,"g":1,"f":0,"t":20.5,"q":66},{"s":10,"g":1,"f":0,"t":21.1,"q":57},{"s":10,"g":1,"f":0,"t":21.5,"q":50},{"s":10,"g":1,"f":0,"t":22.0,"q":45},
{"s":10,"g":2,"f":1,"t":22.0,"q":45},{"s":10,"g":2,"f":1,"t":22.5,"q":48},{"s":10,"g":2,"f":1,"t":23.0,"q":52},{"s":10,"g":2,"f":1,"t":23.55,"q":57},{"s":10,"g":2,"f":1,"t":24.2,"q":95},{"s":10,"g":2,"f":1,"t":24.65,"q":173},{"s":10,"g":2,"f":1,"t":25.1,"q":235},

{"s":11,"g":0,"f":1,"t":3.8,"q":4.3},{"s":11,"g":0,"f":1,"t":4.2,"q":6},{"s":11,"g":0,"f":1,"t":4.6,"q":7.5},{"s":11,"g":0,"f":1,"t":5.0,"q":8.1},{"s":11,"g":0,"f":1,"t":5.4,"q":9},
{"s":11,"g":1,"f":0,"t":5.4,"q":9},{"s":11,"g":1,"f":0,"t":5.8,"q":8.0},{"s":11,"g":1,"f":0,"t":6.2,"q":7.5},{"s":11,"g":1,"f":0,"t":6.6,"q":8.5},{"s":11,"g":1,"f":0,"t":7.0,"q":10.5},{"s":11,"g":1,"f":0,"t":7.5,"q":11.5},{"s":11,"g":1,"f":0,"t":8.0,"q":10.5},{"s":11,"g":1,"f":0,"t":8.5,"q":9.5},{"s":11,"g":1,"f":0,"t":9.0,"q":10.2},{"s":11,"g":1,"f":0,"t":9.5,"q":12},{"s":11,"g":1,"f":0,"t":10.0,"q":13.5},{"s":11,"g":1,"f":0,"t":10.5,"q":14},{"s":11,"g":1,"f":0,"t":11.0,"q":13.5},{"s":11,"g":1,"f":0,"t":11.5,"q":12.8},{"s":11,"g":1,"f":0,"t":12.0,"q":12.3},{"s":11,"g":1,"f":0,"t":12.5,"q":12.5},{"s":11,"g":1,"f":0,"t":13.0,"q":13.5},{"s":11,"g":1,"f":0,"t":13.5,"q":14.5},{"s":11,"g":1,"f":0,"t":14.0,"q":15.5},{"s":11,"g":1,"f":0,"t":14.5,"q":17},{"s":11,"g":1,"f":0,"t":15.0,"q":19.5},{"s":11,"g":1,"f":0,"t":15.5,"q":22},{"s":11,"g":1,"f":0,"t":16.0,"q":24},{"s":11,"g":1,"f":0,"t":16.5,"q":26},{"s":11,"g":1,"f":0,"t":17.0,"q":29},{"s":11,"g":1,"f":0,"t":17.5,"q":33},{"s":11,"g":1,"f":0,"t":18.0,"q":36},{"s":11,"g":1,"f":0,"t":18.5,"q":38},{"s":11,"g":1,"f":0,"t":19.0,"q":40},{"s":11,"g":1,"f":0,"t":19.5,"q":43},{"s":11,"g":1,"f":0,"t":20.0,"q":46},{"s":11,"g":1,"f":0,"t":20.5,"q":48},{"s":11,"g":1,"f":0,"t":21.1,"q":52},
{"s":11,"g":2,"f":2,"t":21.1,"q":52},{"s":11,"g":2,"f":2,"t":21.5,"q":60},{"s":11,"g":2,"f":2,"t":22.0,"q":66},{"s":11,"g":2,"f":2,"t":22.7,"q":68.5},{"s":11,"g":2,"f":2,"t":23.1,"q":54.4},{"s":11,"g":2,"f":2,"t":23.55,"q":45},
{"s":11,"g":3,"f":1,"t":23.55,"q":45},{"s":11,"g":3,"f":1,"t":24.4,"q":37.5},{"s":11,"g":3,"f":1,"t":24.8,"q":33},{"s":11,"g":3,"f":1,"t":25.2,"q":30},

{"s":12,"g":0,"f":1,"t":3.9,"q":4.3},{"s":12,"g":0,"f":1,"t":4.3,"q":6.0},{"s":12,"g":0,"f":1,"t":4.9,"q":8.1},{"s":12,"g":0,"f":1,"t":5.2,"q":8.9},
{"s":12,"g":1,"f":0,"t":5.2,"q":8.9},{"s":12,"g":1,"f":0,"t":5.6,"q":10},{"s":12,"g":1,"f":0,"t":6.05,"q":10.6},{"s":12,"g":1,"f":0,"t":6.5,"q":10.3},{"s":12,"g":1,"f":0,"t":6.9,"q":10},{"s":12,"g":1,"f":0,"t":7.4,"q":11},{"s":12,"g":1,"f":0,"t":7.8,"q":11.6},{"s":12,"g":1,"f":0,"t":8.2,"q":11.2},{"s":12,"g":1,"f":0,"t":8.7,"q":10.9},{"s":12,"g":1,"f":0,"t":9.1,"q":10.3},{"s":12,"g":1,"f":0,"t":9.6,"q":12},{"s":12,"g":1,"f":0,"t":10.2,"q":13.8},{"s":12,"g":1,"f":0,"t":10.9,"q":14.8},{"s":12,"g":1,"f":0,"t":11.3,"q":14.8},{"s":12,"g":1,"f":0,"t":11.8,"q":14.4},{"s":12,"g":1,"f":0,"t":12.3,"q":15.3},{"s":12,"g":1,"f":0,"t":12.9,"q":16.5},{"s":12,"g":1,"f":0,"t":13.5,"q":17.4},{"s":12,"g":1,"f":0,"t":14.0,"q":18.5},{"s":12,"g":1,"f":0,"t":14.6,"q":20},{"s":12,"g":1,"f":0,"t":15.2,"q":23},{"s":12,"g":1,"f":0,"t":15.9,"q":27},{"s":12,"g":1,"f":0,"t":16.5,"q":31},{"s":12,"g":1,"f":0,"t":17.0,"q":33.5},{"s":12,"g":1,"f":0,"t":17.5,"q":35},{"s":12,"g":1,"f":0,"t":18.0,"q":36.5},{"s":12,"g":1,"f":0,"t":18.5,"q":37.5},{"s":12,"g":1,"f":0,"t":19.0,"q":37},{"s":12,"g":1,"f":0,"t":19.5,"q":35},{"s":12,"g":1,"f":0,"t":20.0,"q":34},{"s":12,"g":1,"f":0,"t":20.3,"q":33},{"s":12,"g":1,"f":0,"t":20.9,"q":29.5},{"s":12,"g":1,"f":0,"t":21.25,"q":28.7},{"s":12,"g":1,"f":0,"t":21.6,"q":27.5},{"s":12,"g":1,"f":0,"t":22.0,"q":28.5},{"s":12,"g":1,"f":0,"t":22.45,"q":29.5},
{"s":12,"g":2,"f":1,"t":22.45,"q":29.5},{"s":12,"g":2,"f":1,"t":22.8,"q":34},{"s":12,"g":2,"f":1,"t":23.1,"q":38.6},{"s":12,"g":2,"f":1,"t":23.5,"q":35},{"s":12,"g":2,"f":1,"t":24.0,"q":31},{"s":12,"g":2,"f":1,"t":24.5,"q":30},{"s":12,"g":2,"f":1,"t":25.0,"q":28},

{"s":13,"g":1,"f":0,"t":2.0,"q":8.1},{"s":13,"g":1,"f":0,"t":2.5,"q":8.3},{"s":13,"g":1,"f":0,"t":2.97,"q":8.2},{"s":13,"g":1,"f":0,"t":3.5,"q":8.0},{"s":13,"g":1,"f":0,"t":4.3,"q":8.1},{"s":13,"g":1,"f":0,"t":4.9,"q":9.1},{"s":13,"g":1,"f":0,"t":5.5,"q":9.6},{"s":13,"g":1,"f":0,"t":6.0,"q":10.3},{"s":13,"g":1,"f":0,"t":6.5,"q":11},{"s":13,"g":1,"f":0,"t":7.0,"q":12.5},{"s":13,"g":1,"f":0,"t":7.55,"q":13.9},{"s":13,"g":1,"f":0,"t":8.4,"q":15.7},{"s":13,"g":1,"f":0,"t":9.3,"q":17.2},{"s":13,"g":1,"f":0,"t":10.2,"q":18.5},{"s":13,"g":1,"f":0,"t":11.05,"q":20},{"s":13,"g":1,"f":0,"t":11.6,"q":22.5},{"s":13,"g":1,"f":0,"t":12.15,"q":25.4},{"s":13,"g":1,"f":0,"t":12.6,"q":29},{"s":13,"g":1,"f":0,"t":13.0,"q":33.2},{"s":13,"g":1,"f":0,"t":13.7,"q":42},{"s":13,"g":1,"f":0,"t":14.35,"q":47.7},{"s":13,"g":1,"f":0,"t":15.0,"q":49},{"s":13,"g":1,"f":0,"t":15.5,"q":47.7},{"s":13,"g":1,"f":0,"t":15.9,"q":43.6},{"s":13,"g":1,"f":0,"t":16.3,"q":40},{"s":13,"g":1,"f":0,"t":17.0,"q":40},{"s":13,"g":1,"f":0,"t":17.75,"q":41},{"s":13,"g":1,"f":0,"t":18.2,"q":45},{"s":13,"g":1,"f":0,"t":18.7,"q":49},{"s":13,"g":1,"f":0,"t":19.1,"q":47.5},{"s":13,"g":1,"f":0,"t":19.5,"q":46},{"s":13,"g":1,"f":0,"t":20.1,"q":50},
{"s":13,"g":2,"f":2,"t":20.1,"q":50},{"s":13,"g":2,"f":2,"t":20.5,"q":58},{"s":13,"g":2,"f":2,"t":20.9,"q":64},{"s":13,"g":2,"f":2,"t":21.4,"q":77},
{"s":13,"g":3,"f":1,"t":21.4,"q":77},{"s":13,"g":3,"f":1,"t":21.8,"q":98},{"s":13,"g":3,"f":1,"t":22.35,"q":102},{"s":13,"g":3,"f":1,"t":22.42,"q":240},

{"s":14,"g":1,"f":0,"t":2.0,"q":8.45},{"s":14,"g":1,"f":0,"t":2.3,"q":8.5},{"s":14,"g":1,"f":0,"t":2.53,"q":7.9},{"s":14,"g":1,"f":0,"t":2.9,"q":8.3},{"s":14,"g":1,"f":0,"t":3.4,"q":9.1},{"s":14,"g":1,"f":0,"t":4.3,"q":9.85},{"s":14,"g":1,"f":0,"t":5.4,"q":10.3},{"s":14,"g":1,"f":0,"t":6.25,"q":10.9},{"s":14,"g":1,"f":0,"t":7.1,"q":12.3},{"s":14,"g":1,"f":0,"t":8.0,"q":14.8},{"s":14,"g":1,"f":0,"t":8.6,"q":16.8},{"s":14,"g":1,"f":0,"t":9.3,"q":18.8},{"s":14,"g":1,"f":0,"t":10.2,"q":21.2},{"s":14,"g":1,"f":0,"t":10.85,"q":23.9},{"s":14,"g":1,"f":0,"t":11.5,"q":27},{"s":14,"g":1,"f":0,"t":12.4,"q":33.2},{"s":14,"g":1,"f":0,"t":13.0,"q":40},{"s":14,"g":1,"f":0,"t":13.5,"q":46.3},{"s":14,"g":1,"f":0,"t":14.0,"q":47.7},{"s":14,"g":1,"f":0,"t":14.35,"q":45.5},{"s":14,"g":1,"f":0,"t":14.7,"q":42.3},{"s":14,"g":1,"f":0,"t":15.1,"q":44.5},{"s":14,"g":1,"f":0,"t":15.5,"q":47},{"s":14,"g":1,"f":0,"t":15.9,"q":51},{"s":14,"g":1,"f":0,"t":16.3,"q":55.5},
{"s":14,"g":2,"f":2,"t":16.3,"q":55.5},{"s":14,"g":2,"f":2,"t":16.7,"q":62},{"s":14,"g":2,"f":2,"t":17.1,"q":67.3},{"s":14,"g":2,"f":2,"t":17.5,"q":62},{"s":14,"g":2,"f":2,"t":17.9,"q":54.6},{"s":14,"g":2,"f":2,"t":18.4,"q":58.8},{"s":14,"g":2,"f":2,"t":18.85,"q":57},
{"s":14,"g":3,"f":1,"t":18.85,"q":57},{"s":14,"g":3,"f":1,"t":19.4,"q":33},{"s":14,"g":3,"f":1,"t":19.8,"q":21.2},{"s":14,"g":3,"f":1,"t":20.1,"q":22.5}
]
},
"hconcat":[
{
 "width":377,"height":439,
 "layer":[
  {
   "data":{"name":"emp"},
   "mark":{"type":"line","strokeWidth":1.4,"clip":true},
   "encoding":{
    "x":{"field":"t","type":"quantitative","scale":{"domain":[2.16,26.88],"nice":false,"zero":false},
         "axis":{"values":[5,10,15,20,25],"grid":false,"labelPadding":9,"labelFlush":false,"title":"Daily average temperature\u00a0 [°C]","titleX":381,"titleY":62,"titleAlign":"center","titleBaseline":"alphabetic","titleAnchor":null}},
    "y":{"field":"q","type":"quantitative","scale":{"type":"log","domain":[4.37,229],"nice":false},
         "axis":{"values":[5,6,7,8,9,10,20,30,40,50,60,70,80,90,100,200],"grid":true,"format":"d","labelFlush":false,"labelOverlap":false,"labelPadding":5,
                 "labelExpr":"indexof([5,10,20,50,100,200], datum.value) >= 0 ? datum.label : ''",
                 "tickOpacity":{"condition":{"test":"indexof([5,10,20,50,100,200], datum.value) >= 0","value":1},"value":0},
                 "title":"Precipitation [mm/h]\u00a0 99.9% Quantile in 2°C bins","titleX":-58,"titleY":240,"titleAngle":270,"titleAlign":"center","titleBaseline":"alphabetic","titleAnchor":null}},
    "color":{"field":"s","type":"nominal","scale":{"domain":[1,2,3,4,5,6,7,8,9,10,11,12,13,14],"range":["#ff0000","#ff5200","#ffa500","#ffee00","#b4ff00","#62ff00","#1aff00","#00ff44","#00ff95","#00ffe6","#00c3ff","#0073ff","#001eff","#3300ff"]},"legend":null},
    "opacity":{"field":"f","type":"nominal","scale":{"type":"ordinal","domain":[0,1,2],"range":[1,0.2,0.5]},"legend":null},
    "detail":{"field":"g","type":"nominal"}
   }
  },
  {
   "data":{"name":"refE"},
   "mark":{"type":"line","color":"black","strokeWidth":1.3,"clip":true},
   "encoding":{"x":{"field":"t","type":"quantitative"},"y":{"field":"q","type":"quantitative"}}
  },
  {
   "data":{"values":[{}]},
   "mark":{"type":"text","text":"empirical","align":"left","baseline":"alphabetic","fontSize":16,"font":"DejaVu Sans","color":"black"},
   "encoding":{"x":{"datum":4.52,"type":"quantitative"},"y":{"datum":117,"type":"quantitative"}}
  }
 ]
},
{
 "width":364,"height":439,
 "layer":[
  {
   "data":{"name":"par"},
   "mark":{"type":"line","strokeWidth":1.4,"clip":true},
   "encoding":{
    "x":{"field":"t","type":"quantitative","scale":{"domain":[2.11,26.0],"nice":false,"zero":false},
         "axis":{"values":[5,10,15,20,25],"grid":false,"labelPadding":9,"labelFlush":false,"title":null}},
    "y":{"field":"q","type":"quantitative","scale":{"type":"log","domain":[4.37,229],"nice":false},
         "axis":{"values":[5,6,7,8,9,10,20,30,40,50,60,70,80,90,100,200],"grid":true,"format":"d","labelFlush":false,"labelOverlap":false,"labelPadding":5,
                 "labelExpr":"indexof([5,10,20,50,100,200], datum.value) >= 0 ? datum.label : ''",
                 "tickOpacity":{"condition":{"test":"indexof([5,10,20,50,100,200], datum.value) >= 0","value":1},"value":0},
                 "title":null}},
    "color":{"field":"s","type":"nominal","scale":{"domain":[1,2,3,4,5,6,7,8,9,10,11,12,13,14],"range":["#ff0000","#ff5200","#ffa500","#ffee00","#b4ff00","#62ff00","#1aff00","#00ff44","#00ff95","#00ffe6","#00c3ff","#0073ff","#001eff","#3300ff"]},"legend":null},
    "opacity":{"field":"f","type":"nominal","scale":{"type":"ordinal","domain":[0,1,2],"range":[1,0.2,0.5]},"legend":null},
    "detail":{"field":"g","type":"nominal"}
   }
  },
  {
   "data":{"name":"refP"},
   "mark":{"type":"line","color":"black","strokeWidth":1.3,"clip":true},
   "encoding":{"x":{"field":"t","type":"quantitative"},"y":{"field":"q","type":"quantitative"}}
  },
  {
   "data":{"values":[{}]},
   "mark":{"type":"text","text":"parametric","align":"left","baseline":"alphabetic","fontSize":16,"font":"DejaVu Sans","color":"black"},
   "encoding":{"x":{"datum":4.48,"type":"quantitative"},"y":{"datum":117,"type":"quantitative"}}
  }
 ]
}
]
}
